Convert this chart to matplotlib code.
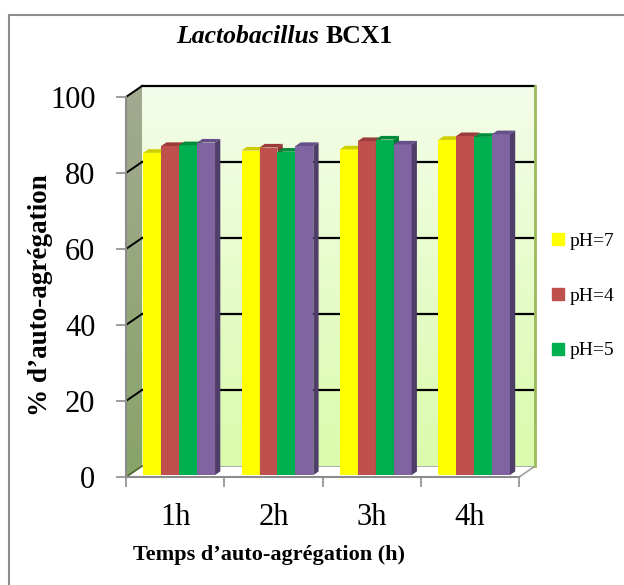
import numpy as np
import matplotlib
matplotlib.use("Agg")
import matplotlib.pyplot as plt
from matplotlib.patches import Polygon
from matplotlib.lines import Line2D

plt.rcParams['font.family'] = ['Liberation Serif', 'DejaVu Serif']

# data
hours = ["1h", "2h", "3h", "4h"]
series_names = ["pH=7", "pH=4", "pH=5", "pH=6"]
ph7 = [84.8, 85.4, 85.7, 88.2]
ph4 = [86.6, 86.2, 87.9, 89.2]
ph5 = [86.8, 85.1, 88.3, 89.0]
ph6 = [87.5, 86.6, 87.0, 89.7]
y_ticks = [0, 20, 40, 60, 80, 100]

front_colors = ["#FFFF00", "#C0504D", "#00B050", "#8064A2"]
top_colors = ["#CFCF00", "#9C3B39", "#008A3C", "#65508A"]
side_colors = ["#D9D900", "#8E3432", "#007D35", "#4F3D6A"]

W, H = 624, 585
fig = plt.figure(figsize=(W / 100, H / 100), dpi=100)

# axes box in pixels (front plane: x -0.5..3.5 -> 126..519, y 0..100 -> 477..97)
px_x, px_y = 98.3, 3.8
left_px, bottom_px, right_px, top_px = 126, 477, 540, 80
ax = fig.add_axes([left_px / W, (H - bottom_px) / H,
                   (right_px - left_px) / W, (bottom_px - top_px) / H])
xmax = -0.5 + (right_px - left_px) / px_x
ymax = (bottom_px - top_px) / px_y

DX, DY = 16 / px_x, 11 / px_y  # depth of the 3d box

# back wall with gradient
grad = np.linspace(0, 1, 256).reshape(-1, 1)
wall_cmap = matplotlib.colors.LinearSegmentedColormap.from_list("wall", ["#DAFBAC", "#F4FDEA"])
ax.imshow(grad, cmap=wall_cmap, origin="lower", aspect="auto",
          extent=(-0.5 + DX, 3.5 + DX, DY, 100 + DY), zorder=1)
ax.plot([3.5 + DX, 3.5 + DX], [DY, 100 + DY], color="#9BBB59", lw=2, zorder=1.6)

# side wall
side_cmap = matplotlib.colors.LinearSegmentedColormap.from_list("side", ["#88A468", "#A2AA90"])
side_poly = Polygon([(-0.5, 0), (-0.5 + DX, DY), (-0.5 + DX, 100 + DY), (-0.5, 100)],
                    closed=True, facecolor="none", edgecolor="none")
ax.add_patch(side_poly)
im = ax.imshow(grad, cmap=side_cmap, origin="lower", aspect="auto",
               extent=(-0.5, -0.5 + DX, 0, 100 + DY), zorder=1)
im.set_clip_path(side_poly)

# floor
ax.add_patch(Polygon([(-0.5, 0), (3.5, 0), (3.5 + DX, DY), (-0.5 + DX, DY)], closed=True,
                     facecolor="white", edgecolor="#A0A0A0", lw=1.2, zorder=0.9, clip_on=False))

# gridlines on back and side walls
for v in y_ticks[1:]:
    ax.plot([-0.5 + DX, 3.5 + DX], [v + DY, v + DY], color="black", lw=1.6, zorder=1.5)
    ax.plot([-0.5, -0.5 + DX], [v, v + DY], color="black", lw=1.4, zorder=1.5)
ax.plot([-0.5, -0.5 + DX], [0, DY], color="#4A6A2A", lw=1.2, zorder=1.5)

# bars
n = len(series_names)
group_w = 0.73
bw = group_w / n
d0 = 0.25
ddx, ddy = 0.33 * DX, 0.33 * DY
base = d0 * DY * 0.7
x = np.arange(len(hours))
for i, vals in enumerate([ph7, ph4, ph5, ph6]):
    xs = x - group_w / 2 + i * bw + bw / 2 + d0 * DX
    bars = ax.bar(xs, vals, width=bw, bottom=base, color=front_colors[i],
                  zorder=3 + i, linewidth=0)
    for r in bars:
        x0, w = r.get_x(), r.get_width()
        b, t = r.get_y(), r.get_y() + r.get_height()
        ax.add_patch(Polygon([(x0, t), (x0 + w, t), (x0 + w + ddx, t + ddy), (x0 + ddx, t + ddy)],
                             closed=True, facecolor=top_colors[i], lw=0, zorder=3 + i))
        ax.add_patch(Polygon([(x0 + w, b), (x0 + w, t), (x0 + w + ddx, t + ddy), (x0 + w + ddx, b + ddy)],
                             closed=True, facecolor=side_colors[i], lw=0, zorder=3 + i))

ax.set_xlim(-0.5, xmax)
ax.set_ylim(0, ymax)

# axes look
for s in ["top", "right"]:
    ax.spines[s].set_visible(False)
ax.spines["left"].set_bounds(0, 100)
ax.spines["bottom"].set_bounds(-0.5, 3.5)
for s in ["left", "bottom"]:
    ax.spines[s].set_color("#8C8C8C")
    ax.spines[s].set_linewidth(1.5)
    ax.spines[s].set_zorder(10)

ax.set_yticks(y_ticks)
ax.set_yticklabels([str(v) for v in y_ticks], fontsize=22)
ax.tick_params(axis="y", length=7, width=1.2, color="#8C8C8C", pad=15)
ax.set_xticks(x)
ax.set_xticklabels(hours, fontsize=22)
ax.set_xticks(np.arange(-0.5, 4, 1), minor=True)
ax.tick_params(axis="x", which="major", length=0, pad=19)
ax.tick_params(axis="x", which="minor", length=7, width=1.2, color="#8C8C8C")

ax.set_ylabel("% d\u2019auto-agrégation", fontsize=19.5, fontweight="bold")
ax.yaxis.set_label_coords((41 - left_px) / (right_px - left_px), (bottom_px - 295) / (bottom_px - top_px))
ax.set_xlabel("Temps d\u2019auto-agrégation (h)", fontsize=16, fontweight="bold")
ax.xaxis.set_label_coords((269 - left_px) / (right_px - left_px), -(555 - bottom_px) / (bottom_px - top_px))
ax.xaxis.label.set_va("center")
ax.yaxis.label.set_va("center")

# title in two styles
fig.text(319 / W, 1 - 43 / H, "Lactobacillus", fontsize=18.5, fontweight="bold",
         fontstyle="italic", ha="right", va="baseline")
fig.text(326 / W, 1 - 43 / H, "BCX1", fontsize=18.5, fontweight="bold", ha="left", va="baseline")

# legend (purple series label is cut off in the reference)
handles = [Line2D([], [], marker="s", ls="none", markersize=8, color=c) for c in front_colors[:3]]
fig.legend(handles, series_names[:3], loc="center left", bbox_to_anchor=(544 / W, 1 - 296 / H),
           frameon=False, fontsize=14, handlelength=0.6, handletextpad=0.3, labelspacing=1.9,
           borderaxespad=0)

# outer frame (only top and left visible)
fig.add_artist(Line2D([9 / W, 9 / W], [0, 1 - 15 / H], color="#8C8C8C", lw=1.5))
fig.add_artist(Line2D([9 / W, 1], [1 - 15 / H, 1 - 15 / H], color="#8C8C8C", lw=1.5))

fig.savefig("out.png", dpi=100)
